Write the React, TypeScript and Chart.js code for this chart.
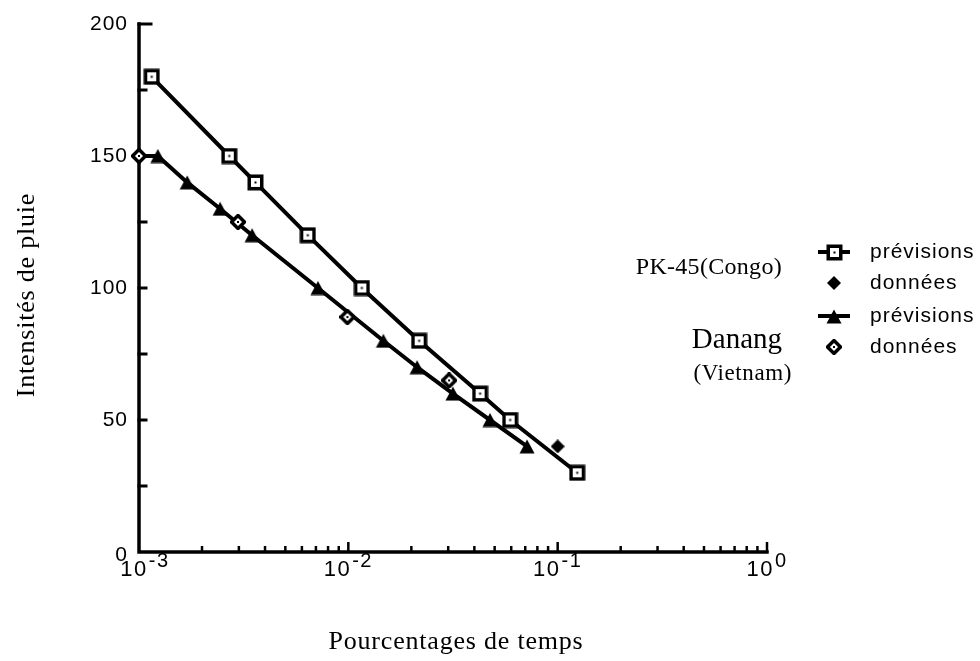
import React, { useEffect, useRef } from 'react';
import { Chart, registerables } from 'chart.js';

Chart.register(...registerables);

// ---- Data ----
const congoPrevX = [0.00115, 0.0027, 0.0036, 0.0064, 0.0116, 0.0218, 0.0426, 0.0593, 0.124];
const congoPrevY = [180, 150, 140, 120, 100, 80, 60, 50, 30];
const congoObsX = [0.1];
const congoObsY = [40];
const danangPrevX = [0.00123, 0.0017, 0.00244, 0.00347, 0.00716, 0.0147, 0.0213, 0.0316, 0.0475, 0.0714];
const danangPrevY = [150, 140, 130, 120, 100, 80, 70, 60, 50, 40];
const danangObsX = [0.001, 0.00297, 0.0099, 0.0303];
const danangObsY = [150, 125, 89, 65];

const yTickLabels = [0, 50, 100, 150, 200];
const yMinorStep = 25;
const xTickExponents = [-3, -2, -1, 0];
const legendLabels = ['prévisions', 'données', 'prévisions', 'données'];
const yTitle = 'Intensités de pluie';
const xTitle = 'Pourcentages de temps';
const station1 = 'PK-45(Congo)';
const station2 = 'Danang';
const station2Sub = '(Vietnam)';

const SERIF = '"Liberation Serif", "Times New Roman", serif';
const SANS = '"Liberation Sans", Arial, Helvetica, sans-serif';

function makeCanvas(w: number, h: number, draw: (ctx: CanvasRenderingContext2D) => void) {
  const c = document.createElement('canvas');
  c.width = w;
  c.height = h;
  const ctx = c.getContext('2d') as CanvasRenderingContext2D;
  draw(ctx);
  return c;
}

function makeMarkers() {
  const square = makeCanvas(17, 17, (ctx) => {
    ctx.fillStyle = '#fff';
    ctx.fillRect(1, 1, 15, 15);
    ctx.strokeStyle = '#000';
    ctx.lineWidth = 3.5;
    ctx.strokeRect(2.25, 2.25, 12.5, 12.5);
    ctx.fillStyle = '#000';
    ctx.fillRect(7.5, 7.5, 2, 2);
  });
  const triangle = makeCanvas(16, 15, (ctx) => {
    ctx.fillStyle = '#000';
    ctx.beginPath();
    ctx.moveTo(8, 0.5);
    ctx.lineTo(15.5, 14.5);
    ctx.lineTo(0.5, 14.5);
    ctx.closePath();
    ctx.fill();
  });
  const filledDiamond = makeCanvas(14, 14, (ctx) => {
    ctx.fillStyle = '#000';
    ctx.beginPath();
    ctx.moveTo(7, 0);
    ctx.lineTo(14, 7);
    ctx.lineTo(7, 14);
    ctx.lineTo(0, 7);
    ctx.closePath();
    ctx.fill();
  });
  const openDiamond = makeCanvas(16, 16, (ctx) => {
    ctx.fillStyle = '#fff';
    ctx.strokeStyle = '#000';
    ctx.lineWidth = 3.5;
    ctx.beginPath();
    ctx.moveTo(8, 1.5);
    ctx.lineTo(14.5, 8);
    ctx.lineTo(8, 14.5);
    ctx.lineTo(1.5, 8);
    ctx.closePath();
    ctx.fill();
    ctx.stroke();
    ctx.fillStyle = '#000';
    ctx.fillRect(7, 7, 2, 2);
  });
  return { square, triangle, filledDiamond, openDiamond };
}

export default function App() {
  const ref = useRef<HTMLCanvasElement | null>(null);

  useEffect(() => {
    const canvas = ref.current;
    if (!canvas) return;
    const m = makeMarkers();

    const axesPlugin = {
      id: 'oldAxes',
      beforeDatasetsDraw(chart: any) {
        const ctx = chart.ctx as CanvasRenderingContext2D;
        const xs = chart.scales.x;
        const ys = chart.scales.y;
        const x0 = xs.getPixelForValue(0.001);
        const x1 = xs.getPixelForValue(1);
        const yb = ys.getPixelForValue(0);
        const yt = ys.getPixelForValue(200);
        ctx.save();
        ctx.strokeStyle = '#000';
        ctx.lineCap = 'square';
        // axis lines
        ctx.lineWidth = 3.5;
        ctx.beginPath();
        ctx.moveTo(x0, yt);
        ctx.lineTo(x0, yb);
        ctx.lineTo(x1, yb);
        ctx.stroke();
        // y ticks (inward)
        ctx.lineWidth = 3;
        for (let v = 0; v <= 200; v += yMinorStep) {
          if (v === 0) continue;
          const py = ys.getPixelForValue(v);
          const len = v === 200 ? 12 : 7;
          ctx.beginPath();
          ctx.moveTo(x0, py);
          ctx.lineTo(x0 + len, py);
          ctx.stroke();
        }
        // x ticks (inward)
        ctx.lineWidth = 2.5;
        ctx.lineCap = 'butt';
        for (let e = -3; e <= 0; e++) {
          for (let k = 1; k <= 9; k++) {
            const v = k * Math.pow(10, e);
            if (v > 1.0000001) break;
            if (e === -3 && k === 1) continue;
            const px = xs.getPixelForValue(v);
            const len = k === 1 ? 10 : 6;
            ctx.beginPath();
            ctx.moveTo(px, yb);
            ctx.lineTo(px, yb - len);
            ctx.stroke();
          }
        }
        // y tick labels
        ctx.fillStyle = '#000';
        ctx.font = `21px ${SANS}`;
        ctx.textAlign = 'right';
        ctx.textBaseline = 'middle';
        (ctx as any).letterSpacing = '1px';
        yTickLabels.forEach((v) => {
          const py = ys.getPixelForValue(v) + (v === 0 ? 3 : 0);
          ctx.fillText(String(v), x0 - 11, py);
        });
        // x tick labels 10^e
        ctx.textBaseline = 'alphabetic';
        xTickExponents.forEach((e) => {
          const px = xs.getPixelForValue(Math.pow(10, e));
          ctx.font = `22px ${SANS}`;
          (ctx as any).letterSpacing = '1.5px';
          const base = '10';
          const wb = ctx.measureText(base).width;
          ctx.font = `20px ${SANS}`;
          const exp = e < 0 ? '-' + String(-e) : String(e);
          const we = ctx.measureText(exp).width;
          const total = wb + 1 + we;
          const left = px - total / 2 + (e === -3 ? 6 : 0);
          ctx.textAlign = 'left';
          ctx.font = `22px ${SANS}`;
          ctx.fillText(base, left, yb + 24);
          ctx.font = `20px ${SANS}`;
          ctx.fillText(exp, left + wb + 1, yb + 15);
        });
        (ctx as any).letterSpacing = '0px';
        ctx.restore();
      },
      afterDraw(chart: any) {
        const ctx = chart.ctx as CanvasRenderingContext2D;
        ctx.save();
        ctx.fillStyle = '#000';
        // axis titles
        ctx.font = `26px ${SERIF}`;
        (ctx as any).letterSpacing = '0.8px';
        ctx.textAlign = 'center';
        ctx.textBaseline = 'middle';
        ctx.save();
        ctx.translate(27, 295);
        ctx.rotate(-Math.PI / 2);
        ctx.fillText(yTitle, 0, 0);
        ctx.restore();
        ctx.font = `26px ${SERIF}`;
        (ctx as any).letterSpacing = '0.8px';
        ctx.fillText(xTitle, 456, 642);
        // station annotations
        ctx.textAlign = 'right';
        ctx.font = `24px ${SERIF}`;
        (ctx as any).letterSpacing = '0.3px';
        ctx.fillText(station1, 782, 268);
        ctx.font = `29px ${SERIF}`;
        (ctx as any).letterSpacing = '0px';
        ctx.fillText(station2, 782, 340);
        ctx.font = `23px ${SERIF}`;
        (ctx as any).letterSpacing = '0.6px';
        ctx.fillText(station2Sub, 792, 374);
        // legend
        const markers = [m.square, m.filledDiamond, m.triangle, m.openDiamond];
        const withLine = [true, false, true, false];
        const rowsY = [252, 283, 316, 347];
        ctx.strokeStyle = '#000';
        ctx.lineWidth = 4;
        rowsY.forEach((ry, i) => {
          const cx = 834;
          if (withLine[i]) {
            ctx.beginPath();
            ctx.moveTo(818, ry);
            ctx.lineTo(850, ry);
            ctx.stroke();
          }
          const img = markers[i];
          ctx.drawImage(img, Math.round(cx - img.width / 2), Math.round(ry - img.height / 2));
        });
        ctx.font = `21px ${SANS}`;
        (ctx as any).letterSpacing = '1px';
        ctx.textAlign = 'left';
        ctx.textBaseline = 'middle';
        legendLabels.forEach((t, i) => ctx.fillText(t, 870, rowsY[i]));
        (ctx as any).letterSpacing = '0px';
        ctx.restore();
      },
    };

    const pts = (xs: number[], ys: number[]) => xs.map((x, i) => ({ x, y: ys[i] }));

    const chart = new Chart(canvas, {
      type: 'scatter',
      data: {
        datasets: [
          {
            label: 'données (Danang)',
            data: pts(danangObsX, danangObsY),
            pointStyle: m.openDiamond as any,
            pointRadius: 7,
            showLine: false,
            clip: false as any,
          },
          {
            label: 'données (PK-45)',
            data: pts(congoObsX, congoObsY),
            pointStyle: m.filledDiamond as any,
            pointRadius: 7,
            showLine: false,
            clip: false as any,
          },
          {
            label: 'prévisions (Danang)',
            data: [{ x: danangObsX[0], y: danangObsY[0] }, ...pts(danangPrevX, danangPrevY)],
            pointStyle: m.triangle as any,
            pointRadius: ((c: any) => (c.dataIndex === 0 ? 0 : 7)) as any,
            showLine: true,
            borderColor: '#000',
            backgroundColor: '#000',
            borderWidth: 4,
            clip: false as any,
          },
          {
            label: 'prévisions (PK-45)',
            data: pts(congoPrevX, congoPrevY),
            pointStyle: m.square as any,
            pointRadius: 7,
            showLine: true,
            borderColor: '#000',
            backgroundColor: '#000',
            borderWidth: 4,
            clip: false as any,
          },
        ],
      },
      options: {
        responsive: false,
        animation: false,
        events: [],
        layout: { padding: { left: 139, top: 24, right: 213, bottom: 109 } },
        scales: {
          x: { type: 'logarithmic', display: false, min: 0.001, max: 1 },
          y: { type: 'linear', display: false, min: 0, max: 200 },
        },
        plugins: { legend: { display: false }, tooltip: { enabled: false } },
      },
      plugins: [axesPlugin],
    });

    return () => chart.destroy();
  }, []);

  return (
    <div style={{ position: 'absolute', left: 0, top: 0, width: 980, height: 661, background: '#fff' }}>
      <canvas ref={ref} width={980} height={661} style={{ display: 'block', width: 980, height: 661 }} />
    </div>
  );
}
